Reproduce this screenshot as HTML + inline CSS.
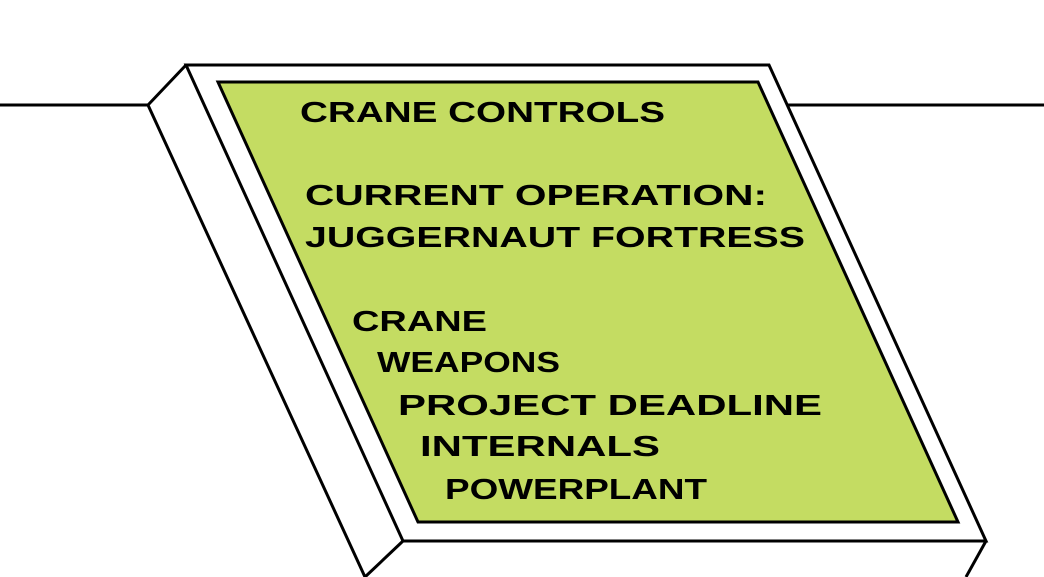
<!DOCTYPE html>
<html><head><meta charset="utf-8"><style>html,body{margin:0;padding:0;background:#fff}svg{display:block}</style></head>
<body>
<svg width="1044" height="577" viewBox="0 0 1044 577" xmlns="http://www.w3.org/2000/svg">
<rect width="1044" height="577" fill="#fff"/>
<g fill="none" stroke="#000" stroke-width="3" stroke-linejoin="miter">
<line x1="0" y1="105" x2="148" y2="105"/>
<line x1="787" y1="105" x2="1044" y2="105"/>
<polyline points="365,577 148,105 186,65"/>
<polygon points="186,65 769,65 986,541 403,541" fill="#fff"/>
<line x1="403" y1="541" x2="365" y2="577"/>
<line x1="986" y1="541" x2="966" y2="577"/>
<polygon points="218,82 758,82 958,522 418,522" fill="#c4dc62"/>
</g>
<g font-family="Liberation Sans, sans-serif" font-weight="bold" font-size="29" fill="#000" lengthAdjust="spacingAndGlyphs">
<text x="300" y="122" textLength="365" lengthAdjust="spacingAndGlyphs">CRANE CONTROLS</text>
<text x="305" y="205" textLength="462" lengthAdjust="spacingAndGlyphs">CURRENT OPERATION:</text>
<text x="305" y="247" textLength="500" lengthAdjust="spacingAndGlyphs">JUGGERNAUT FORTRESS</text>
<text x="352" y="331" textLength="135" lengthAdjust="spacingAndGlyphs">CRANE</text>
<text x="377" y="372" textLength="183" lengthAdjust="spacingAndGlyphs">WEAPONS</text>
<text x="398" y="415" textLength="424" lengthAdjust="spacingAndGlyphs">PROJECT DEADLINE</text>
<text x="420" y="456" textLength="240" lengthAdjust="spacingAndGlyphs">INTERNALS</text>
<text x="445" y="499" textLength="262" lengthAdjust="spacingAndGlyphs">POWERPLANT</text>
</g>
</svg>
</body></html>
